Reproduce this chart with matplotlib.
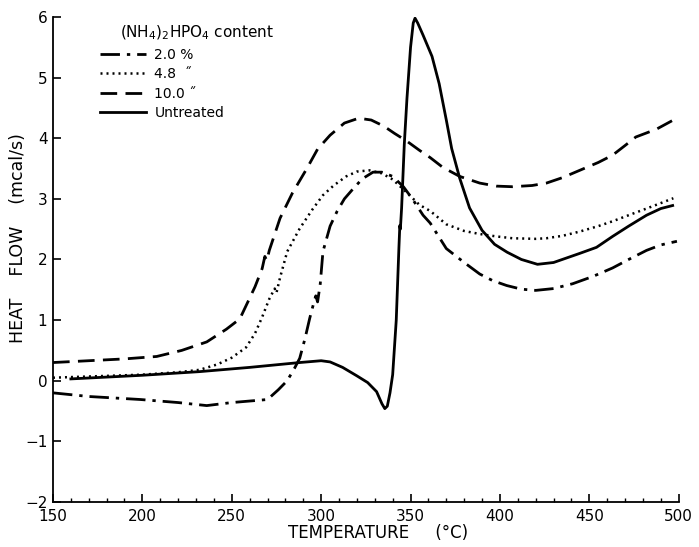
# DSC curves of treated / untreated samples
import matplotlib
matplotlib.use("Agg")
import matplotlib.pyplot as plt
from matplotlib.ticker import MultipleLocator

FIG_WIDTH: float = 6.99
FIG_HEIGHT: float = 5.47
FONT_SIZE: float = 11
LINE_WIDTH: float = 2.0

# 2.0 % (dash-dot)
t_20 = [150, 170, 199, 220, 236, 250, 262, 270, 276, 281, 285, 288, 291, 293.6, 296, 297, 298, 299.5,
        301, 305, 309, 313, 318, 323, 329, 334, 340, 346, 351, 357, 361, 370, 380, 388.7, 396, 403.8,
        412, 420, 430, 440.7, 452, 463, 472, 482, 490, 499]
hf_20 = [-0.2, -0.26, -0.31, -0.36, -0.41, -0.36, -0.33, -0.31, -0.15, 0.0, 0.2, 0.37, 0.7, 1.03, 1.3, 1.4, 1.3, 1.6,
         2.13, 2.55, 2.8, 3.0, 3.17, 3.33, 3.44, 3.44, 3.37, 3.2, 3.0, 2.73, 2.6, 2.18, 1.95, 1.76, 1.65, 1.57,
         1.51, 1.49, 1.52, 1.6, 1.72, 1.86, 2.0, 2.15, 2.24, 2.3]

# 4.8 % (dotted)
t_48 = [150, 170, 200, 220, 232, 242, 250, 258, 263, 267, 271, 274, 275, 277, 281, 288, 295, 301, 307,
        314, 320, 327, 334, 340, 348, 355, 361, 370, 380, 388.7, 398, 407, 420, 426, 435, 444.6, 455,
        463, 472, 482, 490, 497]
hf_48 = [0.05, 0.07, 0.10, 0.14, 0.18, 0.27, 0.38, 0.55, 0.78, 1.05, 1.35, 1.52, 1.45, 1.7, 2.13, 2.51, 2.82, 3.06, 3.22,
         3.37, 3.45, 3.47, 3.42, 3.32, 3.1, 2.9, 2.8, 2.58, 2.47, 2.42, 2.38, 2.35, 2.34, 2.35, 2.39, 2.46, 2.55,
         2.63, 2.73, 2.84, 2.93, 3.01]

# 10.0 % (dashed)
t_100 = [150, 170, 190, 208, 222, 236, 247, 254.5, 259, 263, 267, 268.5, 269.6, 271, 277, 284, 292, 298,
         305, 313, 321, 328, 335, 341, 348, 355, 361, 368, 377.5, 388.7, 398, 407, 418, 426, 435, 444.6,
         455, 463, 470, 476, 487.6, 497]
hf_100 = [0.30, 0.33, 0.36, 0.40, 0.50, 0.64, 0.85, 1.02, 1.30, 1.55, 1.85, 2.05, 1.98, 2.15, 2.68, 3.1, 3.5, 3.82,
          4.05, 4.25, 4.33, 4.3, 4.2, 4.08, 3.95, 3.8, 3.68, 3.52, 3.37, 3.26, 3.21, 3.2, 3.22, 3.26, 3.35, 3.47,
          3.6, 3.72, 3.88, 4.02, 4.15, 4.3]

# Untreated (solid)
t_un = [160, 180, 200, 232, 260, 288, 300, 305, 312, 320, 326, 331, 334, 335.6, 337, 338.5, 340, 342,
        343.5, 344, 344.3, 345, 346.5, 348, 350, 351.5, 352.5, 354, 357, 362, 366, 370, 373, 377.5, 383,
        390, 397, 404, 412, 421, 430, 444.6, 454, 463, 472, 482, 490, 496.6]
hf_un = [0.03, 0.06, 0.09, 0.15, 0.22, 0.30, 0.33, 0.31, 0.22, 0.08, -0.03, -0.18, -0.38, -0.46, -0.42, -0.2, 0.1, 1.0,
         2.2, 2.56, 2.5, 2.85, 3.9, 4.66, 5.5, 5.9, 5.98, 5.9, 5.7, 5.35, 4.9, 4.3, 3.83, 3.34, 2.85,
         2.48, 2.25, 2.12, 2.0, 1.92, 1.95, 2.1, 2.2, 2.38, 2.55, 2.73, 2.84, 2.89]

labels = ["2.0 %", "4.8  \u02dd", "10.0 \u02dd", "Untreated"]

plt.rc("font", family="DejaVu Sans", size=FONT_SIZE)
fig = plt.figure(figsize=(FIG_WIDTH, FIG_HEIGHT), dpi=100)
ax = fig.add_axes([0.0758, 0.0823, 0.8952, 0.8867])

ax.plot(t_20, hf_20, color="black", lw=LINE_WIDTH, dashes=(7, 2.5, 1.2, 2.5), label=labels[0])
ax.plot(t_48, hf_48, color="black", lw=LINE_WIDTH * 0.9, dashes=(0.8, 1.6), label=labels[1])
ax.plot(t_100, hf_100, color="black", lw=LINE_WIDTH, dashes=(6, 3), label=labels[2])
ax.plot(t_un, hf_un, color="black", lw=LINE_WIDTH, label=labels[3])

ax.set_xlim(150, 500)
ax.set_ylim(-2, 6)
ax.xaxis.set_major_locator(MultipleLocator(50))
ax.xaxis.set_minor_locator(MultipleLocator(10))
ax.yaxis.set_major_locator(MultipleLocator(1))
ax.tick_params(which="major", direction="in", length=6, width=1.2)
ax.tick_params(which="minor", direction="in", length=3, width=1.0)
ax.tick_params(axis="x", pad=5)
ax.tick_params(axis="y", pad=4)
for side in ["top", "right"]:
    ax.spines[side].set_visible(False)
for side in ["left", "bottom"]:
    ax.spines[side].set_linewidth(1.3)

ax.set_xlabel("TEMPERATURE     (\u00b0C)", fontsize=12)
ax.xaxis.set_label_coords(0.52, -0.045)
ax.set_ylabel("HEAT    FLOW    (mcal/s)", fontsize=12.5)
ax.yaxis.set_label_coords(-0.042, 0.545)

ax.text(0.107, 0.967, "(NH$_4$)$_2$HPO$_4$ content", transform=ax.transAxes, fontsize=11, va="center")
ax.legend(loc="upper left", bbox_to_anchor=(0.06, 0.957), frameon=False, fontsize=10,
          handlelength=3.3, handletextpad=0.6, labelspacing=0.4, borderpad=0.2)

plt.savefig("out.png", dpi=100)
